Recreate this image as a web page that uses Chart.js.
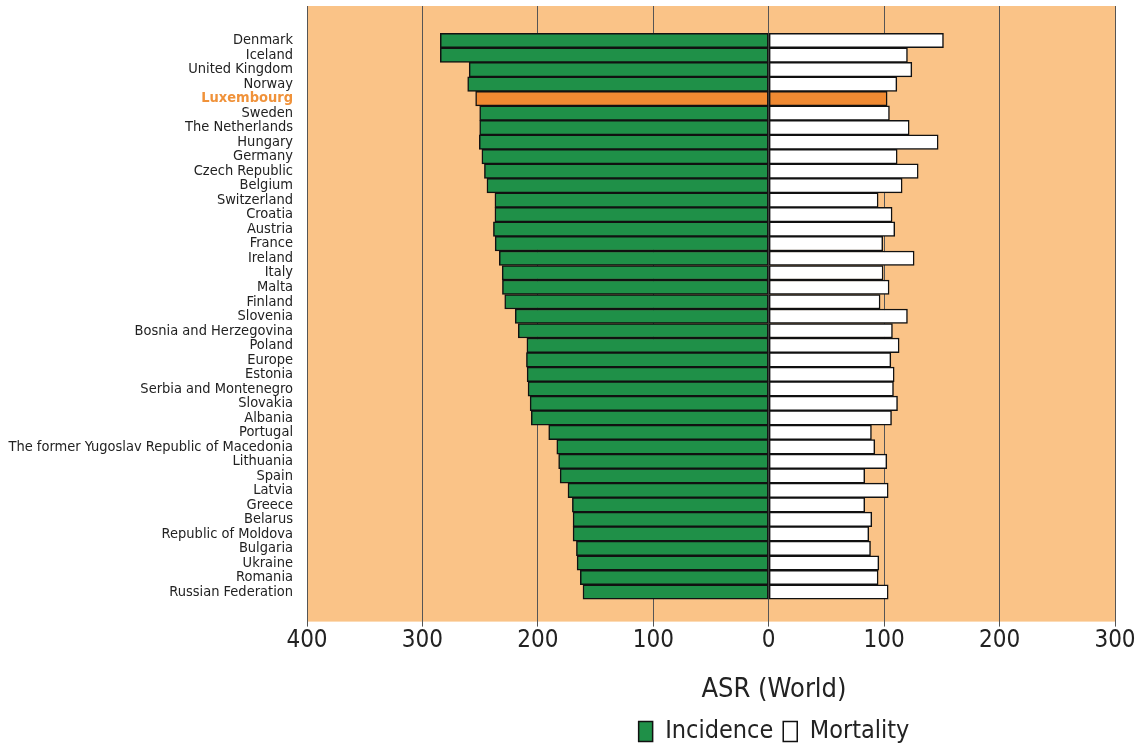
<!DOCTYPE html>
<html>
<head>
<meta charset="utf-8">
<script src="https://cdn.jsdelivr.net/npm/chart.js@4.4.1/dist/chart.umd.min.js"></script>
<style>
  html, body { margin: 0; padding: 0; background: #fff; }
  #wrap { width: 1141px; height: 744px; }
</style>
</head>
<body>
<div id="wrap"><canvas id="asrChart"></canvas></div>
<script>
const countries = ["Denmark", "Iceland", "United Kingdom", "Norway", "Luxembourg", "Sweden",
    "The Netherlands", "Hungary", "Germany", "Czech Republic", "Belgium", "Switzerland",
    "Croatia", "Austria", "France", "Ireland", "Italy", "Malta", "Finland", "Slovenia",
    "Bosnia and Herzegovina", "Poland", "Europe", "Estonia", "Serbia and Montenegro",
    "Slovakia", "Albania", "Portugal", "The former Yugoslav Republic of Macedonia",
    "Lithuania", "Spain", "Latvia", "Greece", "Belarus", "Republic of Moldova", "Bulgaria",
    "Ukraine", "Romania", "Russian Federation"];

const incidence = [284.5, 284.5, 259.5, 260.8, 253.9, 250.4, 250.4, 250.7, 248.5, 246.3,
    244.1, 237.2, 237.2, 238.5, 237.0, 233.4, 230.9, 230.7, 228.7, 219.6, 217.0, 209.5,
    209.9, 209.3, 208.5, 206.7, 205.7, 190.6, 183.6, 182.0, 180.7, 173.9, 170.1, 169.5,
    169.5, 166.6, 166.0, 163.2, 160.9];

const mortality = [151.4, 120.2, 124.0, 111.0, 102.6, 104.6, 121.7, 146.8, 111.3, 129.5,
    115.6, 94.8, 106.9, 109.2, 98.8, 126.0, 99.1, 104.3, 96.5, 120.2, 107.2, 113.0, 105.8,
    108.7, 108.1, 111.6, 106.4, 89.0, 91.9, 102.3, 83.2, 103.5, 83.2, 89.3, 86.7, 88.2,
    95.4, 94.8, 103.5];

const xTicks = [-400, -300, -200, -100, 0, 100, 200, 300];

const highlight = countries.indexOf("Luxembourg");
const font = '"DejaVu Sans Condensed", "Liberation Sans Narrow", "Open Sans", sans-serif';
const green = "#1f9048";
const orange = "#f08a32";

// fond orange derrière la zone du graphique
const plotBackground = {
    id: "plotBackground",
    beforeDraw(chart) {
        const { ctx, chartArea: a } = chart;
        ctx.save();
        ctx.fillStyle = "#fac387";
        ctx.fillRect(a.left, a.top, a.right - a.left, a.bottom - a.top);
        ctx.restore();
    }
};

// décale la légende pour la centrer sous le zéro comme l'original
const legendShift = {
    id: "legendShift",
    afterLayout(chart) {
        const dx = 63;
        chart.legend.left += dx;
        chart.legend.right += dx;
    }
};

const ctx = document.getElementById("asrChart").getContext("2d");

new Chart(ctx, {
    type: "bar",
    data: {
        datasets: [{
            label: "Incidence",
            data: incidence.map((v, i) => ({ x: -v, y: i })),
            backgroundColor: c => c.dataIndex === highlight ? orange : green,
            borderColor: "#111",
            borderWidth: 1.5,
            borderSkipped: false,
            barPercentage: 1,
            categoryPercentage: 1
        }, {
            label: "Mortality",
            data: mortality.map((v, i) => ({ x: v, y: i })),
            backgroundColor: c => c.dataIndex === highlight ? orange : "#ffffff",
            borderColor: "#111",
            borderWidth: 1.5,
            borderSkipped: false,
            barPercentage: 1,
            categoryPercentage: 1
        }]
    },
    plugins: [plotBackground, legendShift],
    options: {
        indexAxis: "y",
        responsive: true,
        maintainAspectRatio: false,
        animation: false,
        layout: { padding: { top: 6, right: 26, left: 0, bottom: -10 } },
        scales: {
            x: {
                type: "linear",
                stacked: true,
                min: -400,
                max: 300,
                afterBuildTicks: s => { s.ticks = xTicks.map(v => ({ value: v })); },
                afterFit: s => { s.height = 40; },
                border: { display: false },
                grid: { color: "#555", lineWidth: 1, tickLength: 5 },
                ticks: {
                    padding: 0,
                    color: "#222",
                    font: { family: font, size: 24 },
                    maxRotation: 0,
                    callback: v => Math.abs(v)
                }
            },
            y: {
                type: "linear",
                stacked: true,
                reverse: true,
                offset: false,
                min: -2.38,
                max: 40.04,
                afterBuildTicks: s => { s.ticks = countries.map((_, i) => ({ value: i })); },
                afterFit: s => { s.width = 307; s.paddingTop = 0; s.paddingBottom = 0; },
                border: { display: false },
                grid: { display: false, drawTicks: false },
                ticks: {
                    autoSkip: false,
                    padding: 14,
                    color: c => c.index === highlight ? "#f0923a" : "#222",
                    font: c => ({ family: font, size: 14.5, weight: c.index === highlight ? "bold" : "normal" }),
                    callback: v => countries[v]
                }
            }
        },
        plugins: {
            tooltip: { enabled: false },
            legend: {
                position: "bottom",
                fullSize: false,
                title: {
                    display: true,
                    text: "ASR (World)",
                    color: "#222",
                    font: { family: font, size: 27 },
                    padding: { top: 15, bottom: 0 }
                },
                labels: {
                    color: "#222",
                    font: { family: font, size: 25 },
                    boxWidth: 14,
                    boxHeight: 20,
                    padding: 10
                }
            }
        }
    }
});
</script>
</body>
</html>
